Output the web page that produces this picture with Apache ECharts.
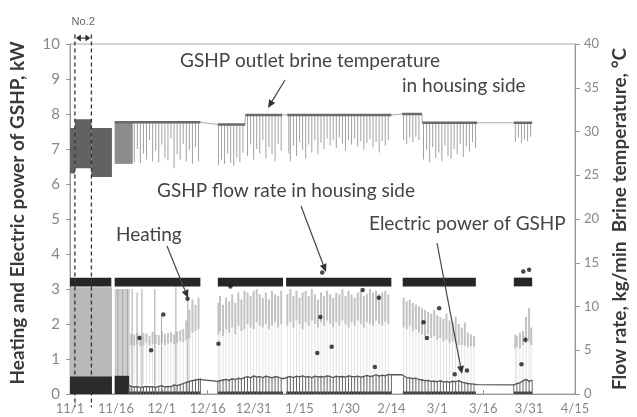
<!DOCTYPE html>
<html><head><meta charset="utf-8">
<script src="https://cdn.jsdelivr.net/npm/echarts@6/dist/echarts.min.js"></script>
<style>html,body{margin:0;padding:0;background:#fff}#c{width:637px;height:417px}</style>
</head><body><div id="c"></div>
<script>
// x = days since 11/1
const xLabels = ['11/1','11/16','12/1','12/16','12/31','1/15','1/30','2/14','3/1','3/16','3/31','4/15'];
const noTwoPeriod = [1.6, 7.0];

// GSHP outlet brine temperature, °C (right axis)
const tempBlocks = [[0,1.6,25.2,30.4],[1.6,7.0,25.8,31.4],[7.0,13.7,24.8,30.4],[14.6,20.5,26.3,31.1]];
const tempSegs = [[14.6,42.6,31.05],[48.3,57.2,30.8],[57.3,69.3,31.9],[71,105,31.9],[108.5,115,32.0],[115.1,133,31.0],[145,151,31.0]];
const tempLows = [[21,26.5],[22,28.0],[23,26.4],[24,27.5],[25,26.8],[26,29.0],[27,26.6],[28,27.8],[29,26.5],[30,28.5],[31,27.0],[32,26.7],[33,29.2],[34,25.8],[35,27.4],[36,26.8],[37,28.6],[38,26.6],[39,27.9],[40,26.3],[41,28.2],[42,26.6],
 [48.5,26.2],[49.5,26.8],[50.5,26.3],[51.5,27.5],[52.5,26.4],[53.5,26.1],[54.5,27.0],[55.5,26.5],[56.5,27.6],
 [58,27.2],[59,28.5],[60,26.8],[61,28.0],[62,27.5],[63,29.0],[64,26.9],[65,28.2],[66,27.4],[67,26.6],[68,28.6],[69,27.8],
 [71.5,27.5],[72,26.6],[73,28.4],[74,27.2],[75,28.8],[76,27.9],[77,26.9],[78,28.5],[79,27.6],[80,29.0],[81,27.4],[82,28.7],[83,28.0],[84,29.2],[85,28.4],[86,29.0],[87,28.1],[88,29.3],[89,28.6],[90,27.8],[91,29.0],[92,28.5],[93,29.2],[94,28.3],[95,28.9],[96,27.9],[97,28.7],[98,29.1],[99,28.2],[100,28.8],[101,27.6],[102,28.9],[103,28.4],[104,29.0],
 [109,29.0],[110,28.6],[111,29.3],[112,28.8],[113,29.4],[114,29.0],
 [115.5,26.8],[116.5,27.9],[117.5,26.5],[118.5,28.2],[119.5,27.0],[120.5,27.6],[121.5,26.6],[122.5,28.4],[123.5,27.2],[124.5,26.9],[125.5,28.0],[126.5,27.4],[127.5,28.6],[128.5,27.1],[129.5,28.3],[130.5,27.7],[131.5,28.8],[132.5,28.1],
 [145.5,28.8],[146.5,29.3],[147.5,28.7],[148.5,29.1],[149.5,28.9],[150.5,29.4]];

// GSHP flow rate in housing side, kg/min (right axis)
const flowBands = [[0,13.5,12.3,13.3],[14.6,42.6,12.3,13.3],[48.3,69.6,12.3,13.3],[70.6,105,12.3,13.3],[108.7,132.6,12.3,13.3],[145,151,12.3,13.3]];
const flowDots = [[22.7,6.4],[26.5,5.0],[30.5,9.1],[38.4,10.9],[48.5,5.75],[52.4,12.3],[80.8,4.7],[81.8,8.8],[82.4,13.9],[85.5,5.4],[95.6,11.9],[99.6,3.1],[100.9,11.0],[115.5,8.2],[116.6,6.4],[120.6,9.8],[125.7,2.25],[129.7,2.7],[147.5,3.4],[148.1,14.0],[148.8,6.2],[150,14.2]];

// Heating, kW (left axis)
const heatBlocks = [[0,13.7,0,3.05],[14.6,19.5,0,3.0]];
const heatBand = [[20,1.40,1.72],[21,1.38,1.70],[22,1.42,1.75],[23,1.36,1.68],[24,1.40,1.74],[25,1.45,1.72],[26,1.38,1.66],[27,1.42,1.78],[28,1.44,1.70],[29,1.40,1.68],[30,1.46,1.80],[31,1.40,1.72],[32,1.44,1.74],[33,1.48,1.76],[34,1.42,1.70],[35,1.46,1.78],[36,1.50,1.82],[37,1.48,1.86],[38,1.55,2.10],[39,1.60,2.40],[40,1.75,2.70],[41,1.80,2.55],[42,1.85,2.75],
 [48.5,1.70,2.60],[49,1.80,2.80],[50,1.65,2.55],[51,1.85,2.75],[52,1.75,2.65],[53,1.90,2.85],[54,1.70,2.60],[55,1.95,2.90],[56,1.80,2.70],[57,1.85,2.95],[58,2.00,2.90],[59,1.90,2.80],[60,1.85,2.95],[61,2.05,3.00],[62,1.95,2.85],[63,1.90,2.75],[64,2.00,2.90],[65,1.85,2.70],[66,1.95,2.95],[67,2.05,2.85],[68,1.90,2.80],[69,2.00,2.95],
 [71,1.95,2.85],[72,2.05,3.00],[73,1.90,2.80],[74,2.10,2.95],[75,2.00,2.75],[76,1.85,2.90],[77,2.05,2.95],[78,1.95,2.80],[79,2.10,3.00],[80,2.00,2.85],[81,1.90,2.70],[82,2.05,2.90],[83,1.95,2.80],[84,2.10,2.95],[85,2.00,2.85],[86,1.90,2.75],[87,2.05,2.90],[88,1.95,2.85],[89,2.10,3.00],[90,2.00,2.80],[91,1.90,2.95],[92,2.05,2.85],[93,1.95,2.75],[94,2.10,2.90],[95,2.00,2.95],[96,1.90,2.80],[97,2.05,2.85],[98,2.00,3.00],[99,1.95,2.90],[100,2.10,2.95],[101,2.00,2.85],[102,1.95,2.90],[103,2.05,2.95],[104,2.00,2.85],
 [109,1.90,2.75],[110,1.85,2.65],[111,1.95,2.70],[112,1.80,2.60],[113,1.85,2.55],[114,1.75,2.50],[115,1.70,2.45],[116,1.65,2.40],[117,1.70,2.35],[118,1.60,2.30],[119,1.65,2.40],[120,1.55,2.25],[121,1.60,2.20],[122,1.50,2.15],[123,1.55,2.30],[124,1.45,2.10],[125,1.50,2.05],[126,1.45,2.20],[127,1.40,2.00],[128,1.40,1.90],[129,1.38,2.05],[130,1.35,1.75],[131,1.36,1.70],[132,1.35,1.65],
 [145.5,1.30,1.70],[146,1.35,1.65],[147,1.30,1.75],[148,1.40,1.80],[149,1.45,2.20],[150,1.50,2.45],[150.7,1.40,1.90]];
const heatSpikes = [[15.6,3.0],[17.2,3.0],[18.8,3.0],[20.3,3.0],[21.9,2.9],[23.5,3.0],[27.7,3.0],[29.9,2.3],[34.6,3.05],[38.5,3.0]];

// Electric power of GSHP, kW (left axis)
const elecBlocks = [[0,13.7,0,0.5],[14.6,19.3,0,0.52]];
const elecLine = [[19.3,0.25],[20,0.22],[21,0.20],[22,0.21],[23,0.19],[24,0.20],[25,0.22],[26,0.20],[27,0.21],[28,0.19],[29,0.22],[30,0.24],[31,0.20],[32,0.22],[33,0.21],[34,0.26],[35,0.24],[36,0.27],[37,0.30],[38,0.33],[39,0.36],[40,0.38],[41,0.40],[42,0.42],[42.6,0.45],
 [48.3,0.36],[49,0.38],[50,0.40],[51,0.42],[52,0.39],[53,0.44],[54,0.41],[55,0.45],[56,0.43],[57,0.47],[58,0.50],[59,0.46],[60,0.52],[61,0.48],[62,0.50],[63,0.47],[64,0.51],[65,0.49],[66,0.46],[67,0.50],[68,0.48],[69,0.45],[70,0.44],
 [71,0.48],[72,0.50],[73,0.47],[74,0.51],[75,0.49],[76,0.52],[77,0.48],[78,0.50],[79,0.47],[80,0.51],[81,0.49],[82,0.50],[83,0.48],[84,0.52],[85,0.50],[86,0.47],[87,0.51],[88,0.49],[89,0.50],[90,0.48],[91,0.52],[92,0.50],[93,0.49],[94,0.51],[95,0.48],[96,0.50],[97,0.53],[98,0.50],[99,0.52],[100,0.55],[101,0.51],[102,0.54],[103,0.52],[104,0.56],[105,0.55],
 [108.5,0.55],[109,0.50],[110,0.47],[111,0.46],[112,0.44],[113,0.45],[114,0.42],[115,0.40],[116,0.38],[117,0.39],[118,0.36],[119,0.37],[120,0.35],[121,0.38],[122,0.34],[123,0.36],[124,0.33],[125,0.37],[126,0.35],[127,0.38],[128,0.34],[129,0.32],[130,0.30],[131,0.29],[132,0.28],[133,0.27],
 [145,0.26],[146,0.30],[147,0.32],[148,0.38],[149,0.42],[150,0.36],[151,0.40]];

function inData(d){ return flowBands.some(b => d >= b[0] && d <= b[1]); }
function segTop(d){ const s = tempSegs.find(s => d >= s[0] && d <= s[1]); return s ? s[2] : null; }

function rectItem(color){
  return function(params, api){
    const a = api.coord([api.value(0), api.value(3)]);
    const b = api.coord([api.value(1), api.value(2)]);
    return {type:'rect', shape:{x:a[0], y:a[1], width:b[0]-a[0], height:b[1]-a[1]}, style:{fill:color}};
  };
}
function vItem(color, w){
  return function(params, api){
    const a = api.coord([api.value(0), api.value(1)]);
    const b = api.coord([api.value(0), api.value(2)]);
    return {type:'line', shape:{x1:a[0], y1:a[1], x2:b[0], y2:b[1]}, style:{stroke:color, lineWidth:w}};
  };
}

const tempSpikeData = tempLows.map(p => [p[0], p[1], segTop(p[0])]);
const tempLineData = [];
tempSegs.forEach(s => { tempLineData.push([s[0], s[2]]); tempLineData.push([s[1], s[2]]); });
const heatFaint = heatBand.map(p => [p[0], 0.3, p[1]]);
const heatDense = heatBand.map(p => [p[0], p[1], p[2]]);
const heatSpikeData = heatSpikes.map(p => [p[0], 0, p[1]]);
const elecComb = elecLine.filter(p => inData(p[0])).map(p => [p[0], 0, p[1]]);
const elecStrip = flowBands.slice(1).map(b => [Math.max(b[0],19.3), b[1], 0, 0.07]);

const chart = echarts.init(document.getElementById('c'));
const FONT = 'Lato, "Open Sans", sans-serif';

function arrow(x1,y1,x2,y2){
  const ang = Math.atan2(y2-y1, x2-x1), L = 8, W = 3.5;
  const bx = x2 - L*Math.cos(ang), by = y2 - L*Math.sin(ang);
  const px = -Math.sin(ang)*W, py = Math.cos(ang)*W;
  return [
    {type:'line', shape:{x1:x1,y1:y1,x2:bx,y2:by}, style:{stroke:'#444', lineWidth:1.2}, z:100},
    {type:'polygon', shape:{points:[[x2,y2],[bx+px,by+py],[bx-px,by-py]]}, style:{fill:'#333'}, z:100}
  ];
}
function label(text, x, y){
  return {type:'text', left:x, top:y, style:{text:text, fill:'#444', font:'19px ' + FONT}, z:100};
}

chart.setOption({
  animation:false,
  grid:{left:66, right:52, top:44, bottom:23, show:true, borderColor:'#aaa', borderWidth:1},
  xAxis:{type:'value', min:0, max:165, interval:15,
    axisLine:{lineStyle:{color:'#999'}}, axisTick:{inside:true, length:4, lineStyle:{color:'#999'}},
    splitLine:{show:false},
    axisLabel:{color:'#888', fontSize:13, fontFamily:FONT, margin:8, formatter:v => xLabels[Math.round(v/15)]}},
  yAxis:[
    {type:'value', min:0, max:10, interval:1, position:'left',
     name:'Heating and Electric power of GSHP, kW', nameLocation:'middle', nameGap:43, nameRotate:90,
     nameTextStyle:{color:'#3a3a3a', fontSize:19, fontWeight:'bold', fontFamily:FONT, padding:[0,0,0,12]},
     axisLine:{show:true, lineStyle:{color:'#999'}}, axisTick:{show:true, length:4, lineStyle:{color:'#999'}},
     splitLine:{show:false}, axisLabel:{color:'#888', fontSize:15, fontFamily:FONT, margin:10}},
    {type:'value', min:0, max:40, interval:5, position:'right',
     name:'Flow rate, kg/min  Brine temperature, °C', nameLocation:'middle', nameGap:31, nameRotate:90,
     nameTextStyle:{color:'#3a3a3a', fontSize:19, fontWeight:'bold', fontFamily:FONT},
     axisLine:{show:true, lineStyle:{color:'#999'}}, axisTick:{show:true, length:5, lineStyle:{color:'#999'}},
     splitLine:{show:false}, axisLabel:{color:'#888', fontSize:13, fontFamily:FONT, margin:9}}
  ],
  series:[
    {type:'custom', name:'heatFaint', yAxisIndex:0, renderItem:vItem('#e3e3e3',1), data:heatFaint, z:1},
    {type:'custom', name:'heatBlocks', yAxisIndex:0, renderItem:rectItem('#b9b9b9'), data:heatBlocks.slice(0,1), z:2},
    {type:'custom', name:'heatBlock2', yAxisIndex:0, renderItem:rectItem('#cdcdcd'), data:heatBlocks.slice(1), z:2},
    {type:'custom', name:'heatBand', yAxisIndex:0, renderItem:vItem('#c2c2c2',2), data:heatDense, z:2},
    {type:'custom', name:'heatSpikes', yAxisIndex:0, renderItem:vItem('#a8a8a8',1), data:heatSpikeData, z:3},
    {type:'custom', name:'tempBlocks', yAxisIndex:1, renderItem:rectItem('#626262'), data:tempBlocks.slice(0,3), z:3},
    {type:'custom', name:'tempBlock2', yAxisIndex:1, renderItem:rectItem('#8c8c8c'), data:tempBlocks.slice(3), z:3},
    {type:'custom', name:'tempSpikes', yAxisIndex:1, renderItem:vItem('#a0a0a0',1), data:tempSpikeData, z:4},
    {type:'line', name:'tempLine', yAxisIndex:1, data:tempLineData, symbol:'none', lineStyle:{color:'#aaa', width:1}, z:5},
    {type:'custom', name:'tempTop', yAxisIndex:1, renderItem:function(params, api){
        const a = api.coord([api.value(0), api.value(2)]), b = api.coord([api.value(1), api.value(2)]);
        return {type:'line', shape:{x1:a[0],y1:a[1],x2:b[0],y2:b[1]}, style:{stroke:'#6a6a6a', lineWidth:2.5}};
      }, data:tempSegs, z:6},
    {type:'custom', name:'elecBlocks', yAxisIndex:0, renderItem:rectItem('#2b2b2b'), data:elecBlocks, z:7},
    {type:'custom', name:'elecStrip', yAxisIndex:0, renderItem:rectItem('#3a3a3a'), data:elecStrip, z:7},
    {type:'custom', name:'elecComb', yAxisIndex:0, renderItem:vItem('#666',1), data:elecComb, z:7},
    {type:'line', name:'Electric power of GSHP', yAxisIndex:0, data:elecLine, symbol:'none', lineStyle:{color:'#555', width:1.3}, z:8},
    {type:'custom', name:'flowBands', yAxisIndex:1, renderItem:rectItem('#262626'), data:flowBands, z:9},
    {type:'scatter', name:'flowDots', yAxisIndex:1, data:flowDots, symbolSize:4.5, itemStyle:{color:'#1a1a1a'}, z:10},
    {type:'custom', name:'noTwo', yAxisIndex:0, clip:false, data:[noTwoPeriod], z:20,
     renderItem:function(params, api){
       const s = api.value(0), e = api.value(1);
       const a1 = api.coord([s, 10.27]), a2 = api.coord([s, -0.38]);
       const b1 = api.coord([e, 10.27]), b2 = api.coord([e, -0.38]);
       const ar = api.coord([s, 10.17]), br = api.coord([e, 10.17]);
       const lb = api.coord([(s+e)/2, 10.62]);
       const h = 3.5, y = ar[1];
       return {type:'group', children:[
         {type:'line', shape:{x1:a1[0],y1:a1[1],x2:a2[0],y2:a2[1]}, style:{stroke:'#333', lineWidth:1.3, lineDash:[4,3]}},
         {type:'line', shape:{x1:b1[0],y1:b1[1],x2:b2[0],y2:b2[1]}, style:{stroke:'#333', lineWidth:1.3, lineDash:[4,3]}},
         {type:'line', shape:{x1:ar[0]+4,y1:y,x2:br[0]-4,y2:y}, style:{stroke:'#333', lineWidth:1.2}},
         {type:'polygon', shape:{points:[[ar[0]+1,y],[ar[0]+6,y-h],[ar[0]+6,y+h]]}, style:{fill:'#333'}},
         {type:'polygon', shape:{points:[[br[0]-1,y],[br[0]-6,y-h],[br[0]-6,y+h]]}, style:{fill:'#333'}},
         {type:'text', x:lb[0], y:lb[1], style:{text:'No.2', fill:'#666', font:'11px "Liberation Sans", Arial, sans-serif', align:'center', verticalAlign:'middle'}}
       ]};
     }}
  ],
  graphic:[
    label('GSHP outlet brine temperature', 180, 51),
    label('in housing side', 402, 76),
    ...arrow(285,80,268,108),
    label('GSHP flow rate in housing side', 157, 181),
    ...arrow(301,206,326,272),
    label('Heating', 116, 225),
    ...arrow(167,246,188,298),
    label('Electric power of GSHP', 369, 214),
    ...arrow(437,243,462,374)
  ]
});
</script></body></html>
